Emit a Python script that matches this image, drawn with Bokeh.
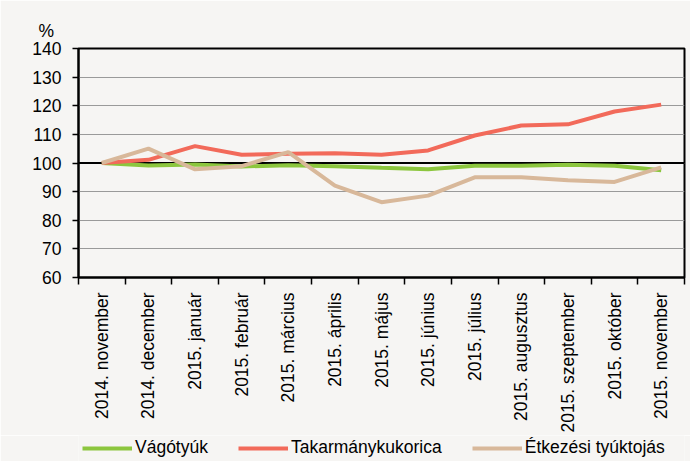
import numpy as np
from bokeh.plotting import figure
from bokeh.layouts import column
from bokeh.models import (Range1d, FixedTicker, CustomJSTickFormatter, Span, Legend,
                          LegendItem, Title, ColumnDataSource)
from bokeh.embed import file_html
from bokeh.resources import INLINE
import math

months = ["2014. november", "2014. december", "2015. január", "2015. február",
          "2015. március", "2015. április", "2015. május", "2015. június",
          "2015. július", "2015. augusztus", "2015. szeptember", "2015. október",
          "2015. november"]
vagotyuk = [100.0, 99.1, 99.5, 98.8, 99.2, 98.9, 98.3, 97.8, 99.0, 99.0, 99.4, 99.0, 97.5]
takarmanykukorica = [100.0, 101.1, 105.9, 102.9, 103.2, 103.4, 102.9, 104.4, 109.6, 113.1, 113.5, 118.0, 120.4]
etkezesi_tojas = [100.0, 105.0, 97.8, 98.9, 103.8, 92.1, 86.3, 88.6, 95.0, 95.0, 94.0, 93.4, 98.5]
series_names = ["Vágótyúk", "Takarmánykukorica", "Étkezési tyúktojás"]
colors = ["#8cc63e", "#f26a5a", "#d8b89a"]
y_ticks = list(range(60, 150, 10))

FONT = "'Liberation Sans', Arial, sans-serif"
FS = "17.5px"
BG = "#f6f5f3"

xpos = [i + 0.5 for i in range(len(months))]
src = ColumnDataSource(dict(x=xpos, v=vagotyuk, t=takarmanykukorica, e=etkezesi_tojas))

p = figure(frame_width=606, frame_height=229, output_backend="svg", toolbar_location=None,
           x_range=Range1d(0, len(months)), y_range=Range1d(60, 140),
           min_border_left=78, min_border_right=6, min_border_top=48, min_border_bottom=0,
           title=None)
p.background_fill_color = BG
p.border_fill_color = BG
p.outline_line_color = "black"
p.outline_line_width = 2

t = Title(text="%", align="left", offset=-40, text_font=FONT, text_font_size=FS,
          text_font_style="normal", text_color="black", standoff=16)
p.add_layout(t, "above")

# grid
p.xgrid.grid_line_color = None
p.ygrid.grid_line_color = "#9a9a9a"
p.ygrid.grid_line_width = 1
p.ygrid.ticker = FixedTicker(ticks=y_ticks)

# y axis
p.yaxis.ticker = FixedTicker(ticks=y_ticks)
p.yaxis.axis_line_color = "black"
p.yaxis.axis_line_width = 2
p.yaxis.major_tick_line_color = "black"
p.yaxis.major_tick_line_width = 1.5
p.yaxis.major_tick_out = 6
p.yaxis.major_tick_in = 0
p.yaxis.minor_tick_line_color = None
p.yaxis.major_label_text_font = FONT
p.yaxis.major_label_text_font_size = FS
p.yaxis.major_label_text_color = "black"
p.yaxis.major_label_standoff = 11

# x axis
p.xaxis.ticker = FixedTicker(ticks=xpos, minor_ticks=list(range(len(months) + 1)))
p.xaxis.formatter = CustomJSTickFormatter(args=dict(labels=months),
                                          code="return labels[Math.floor(tick)];")
p.xaxis.axis_line_color = "black"
p.xaxis.axis_line_width = 2
p.xaxis.major_tick_line_color = None
p.xaxis.minor_tick_line_color = "black"
p.xaxis.minor_tick_line_width = 1.5
p.xaxis.minor_tick_out = 7
p.xaxis.minor_tick_in = 0
p.xaxis.major_label_orientation = math.pi / 2
p.xaxis.major_label_text_font = FONT
p.xaxis.major_label_text_font_size = FS
p.xaxis.major_label_text_color = "black"
p.xaxis.major_label_standoff = 8

span = Span(location=100, dimension="width", line_color="black", line_width=2, level="underlay")
p.add_layout(span)

p.line("x", "v", source=src, line_color=colors[0], line_width=4)
p.line("x", "t", source=src, line_color=colors[1], line_width=4)
p.line("x", "e", source=src, line_color=colors[2], line_width=4)

# legend strip below the chart (its lines lie outside its visible range; only the legend shows)
leg = figure(width=690, height=26, output_backend="svg", toolbar_location=None,
             x_range=Range1d(0, len(months)), y_range=Range1d(0, 1), min_border=0,
             x_axis_location=None, y_axis_location=None, title=None)
leg.background_fill_color = BG
leg.border_fill_color = BG
leg.outline_line_color = None
leg.grid.visible = False
lr = [leg.line("x", col, source=src, line_color=c, line_width=4)
      for col, c in zip(["v", "t", "e"], colors)]
legend = Legend(items=[LegendItem(label=n, renderers=[r]) for n, r in zip(series_names, lr)],
                orientation="horizontal", location=(4, 3),
                glyph_width=50, glyph_height=20, label_height=20, label_standoff=3, spacing=30,
                label_text_font=FONT, label_text_font_size=FS, label_text_color="black",
                border_line_color=None, background_fill_alpha=0, padding=0, margin=0)
leg.add_layout(legend)

layout = column(p, leg, spacing=0)
open("out.html", "w").write(file_html(layout, INLINE))
